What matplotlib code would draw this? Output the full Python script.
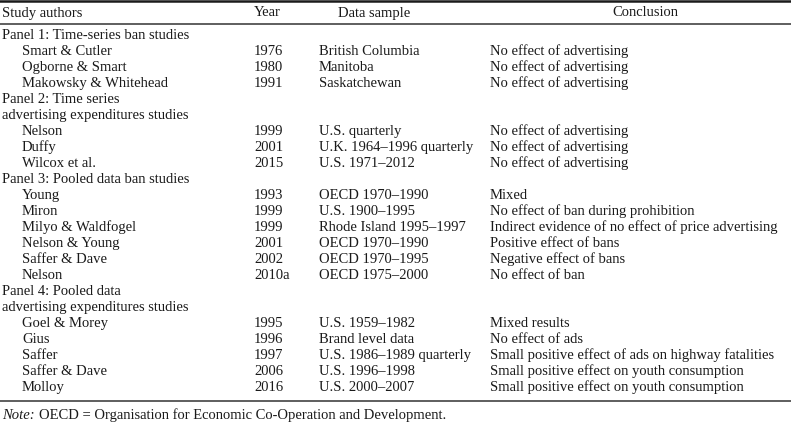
import matplotlib
matplotlib.use("Agg")
from matplotlib import pyplot as plt

plt.rcParams['font.family'] = ['Liberation Serif', 'DejaVu Serif']

# 表头
headers = ["Study authors", "Year", "Data sample", "Conclusion"]

# 各组标题
panel_titles = [
    "Panel 1: Time-series ban studies",
    "Panel 2: Time series\nadvertising expenditures studies",
    "Panel 3: Pooled data ban studies",
    "Panel 4: Pooled data\nadvertising expenditures studies",
]

# 每项研究所属的组
panel_of = [0, 0, 0, 1, 1, 1, 2, 2, 2, 2, 2, 2, 3, 3, 3, 3, 3]

authors = ["Smart & Cutler", "Ogborne & Smart", "Makowsky & Whitehead",
           "Nelson", "Duffy", "Wilcox et al.",
           "Young", "Miron", "Milyo & Waldfogel", "Nelson & Young", "Saffer & Dave", "Nelson",
           "Goel & Morey", "Gius", "Saffer", "Saffer & Dave", "Molloy"]

years = ["1976", "1980", "1991",
         "1999", "2001", "2015",
         "1993", "1999", "1999", "2001", "2002", "2010a",
         "1995", "1996", "1997", "2006", "2016"]

samples = ["British Columbia", "Manitoba", "Saskatchewan",
           "U.S. quarterly", "U.K. 1964\u20131996 quarterly", "U.S. 1971\u20132012",
           "OECD 1970\u20131990", "U.S. 1900\u20131995", "Rhode Island 1995\u20131997",
           "OECD 1970\u20131990", "OECD 1970\u20131995", "OECD 1975\u20132000",
           "U.S. 1959\u20131982", "Brand level data", "U.S. 1986\u20131989 quarterly",
           "U.S. 1996\u20131998", "U.S. 2000\u20132007"]

conclusions = ["No effect of advertising", "No effect of advertising", "No effect of advertising",
               "No effect of advertising", "No effect of advertising", "No effect of advertising",
               "Mixed", "No effect of ban during prohibition",
               "Indirect evidence of no effect of price advertising",
               "Positive effect of bans", "Negative effect of bans", "No effect of ban",
               "Mixed results", "No effect of ads",
               "Small positive effect of ads on highway fatalities",
               "Small positive effect on youth consumption",
               "Small positive effect on youth consumption"]

note_label = "Note:"
note_text = "OECD = Organisation for Economic Co-Operation and Development."

# 画布：像素坐标
W, H = 791, 423
fig = plt.figure(figsize=(W / 100, H / 100), dpi=100)
ax = fig.add_axes([0, 0, 1, 1])
ax.set_xlim(0, W)
ax.set_ylim(H, 0)
ax.axis('off')

fs = 10.55
col = '#1a1a1a'
x_auth, x_indent, x_year, x_sample, x_concl = 2, 22, 254, 319, 490
base = 4.0  # 行中心到基线的偏移


def put(x, y, s, **kw):
    return ax.text(x, y + base, s, fontsize=fs, color=col, va='baseline', **kw)


# 表头与横线
ax.axhline(1.0, color=col, lw=1.8)
put(x_auth, 12.5, headers[0])
put(x_year, 12.5, headers[1])
put(374, 12.5, headers[2], ha='center')
put(645, 12.5, headers[3], ha='center')
ax.axhline(23.8, color='#333333', lw=1.1)

# 逐行绘制
y0, dy = 35, 16.0
row = 0
prev = -1
for i in range(len(authors)):
    p = panel_of[i]
    if p != prev:
        for line in panel_titles[p].split('\n'):
            put(x_auth, y0 + row * dy, line)
            row += 1
        prev = p
    y = y0 + row * dy
    put(x_indent, y, authors[i])
    put(x_year, y, years[i])
    put(x_sample, y, samples[i])
    put(x_concl, y, conclusions[i])
    row += 1

# 底线与注释
ax.axhline(401.5, color='#333333', lw=1.1)
lab = put(x_auth, 415, note_label, style='italic')
fig.canvas.draw()
bb = lab.get_window_extent()
x_note = bb.x1 + 4
put(x_note, 415, note_text)

fig.savefig('out.png', dpi=100)
